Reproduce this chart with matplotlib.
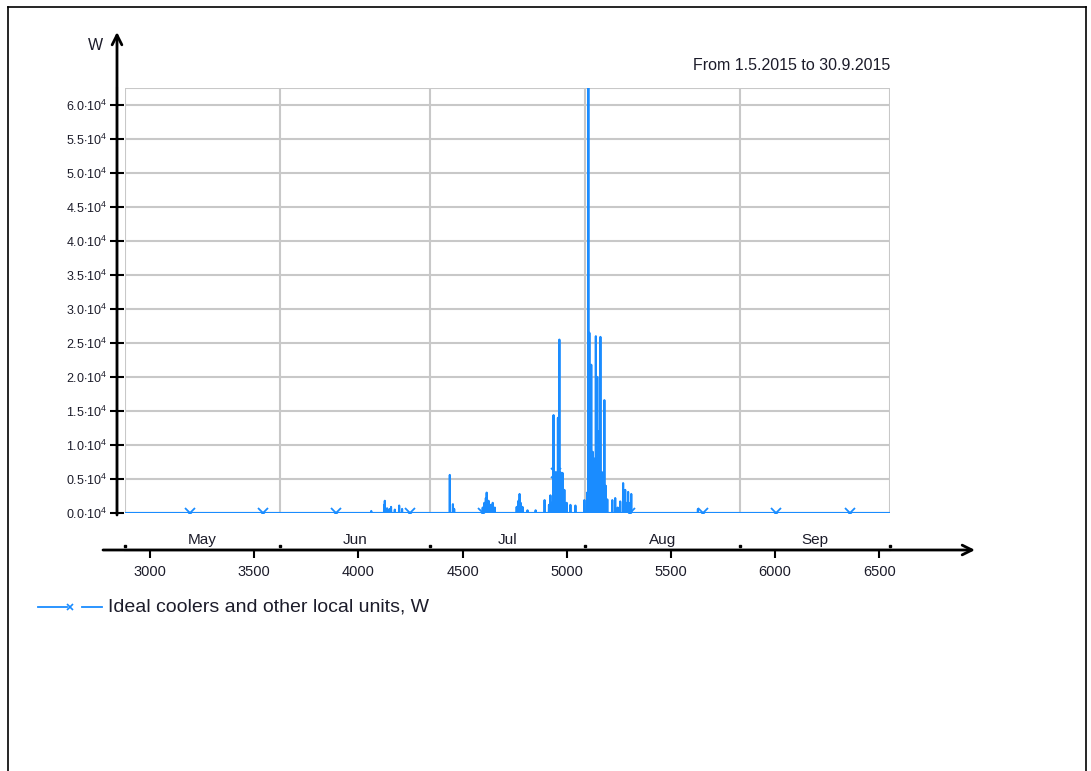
import numpy as np
import matplotlib
matplotlib.use('Agg')
import matplotlib.pyplot as plt
from matplotlib.patches import Rectangle
from matplotlib.lines import Line2D

plt.rcParams['font.family'] = ['Liberation Sans', 'DejaVu Sans']
plt.rcParams['mathtext.fontset'] = 'custom'
plt.rcParams['mathtext.rm'] = 'Liberation Sans'
plt.rcParams['mathtext.it'] = 'Liberation Sans'

# hours of year, 1 May .. 30 Sep 2015
start_hour = 2880
end_hour = 6552
month_bounds = [2880, 3624, 4344, 5088, 5832, 6552]
month_names = ['May', 'Jun', 'Jul', 'Aug', 'Sep']
x_ticks = [3000, 3500, 4000, 4500, 5000, 5500, 6000, 6500]
y_ticks = [0, 5000, 10000, 15000, 20000, 25000, 30000, 35000,
           40000, 45000, 50000, 55000, 60000]

# nonzero hourly cooling loads (W)
spike_hours = [4062, 4124, 4127, 4138, 4150, 4157, 4175, 4196, 4210,
               4439, 4454, 4460,
               4597, 4605, 4612, 4616, 4625, 4635, 4645, 4655,
               4760, 4769, 4774, 4779, 4788, 4812,
               4851, 4894, 4915, 4922, 4930, 4937, 4942, 4951, 4958, 4965,
               4970, 4980, 4989, 5000, 5018, 5042,
               5085, 5098, 5104, 5109, 5114, 5118, 5125, 5133, 5140, 5147,
               5155, 5162, 5170, 5181, 5188, 5195,
               5219, 5233, 5245, 5257, 5271, 5276, 5281, 5290, 5295, 5305, 5310,
               5630]
spike_values = [300, 1200, 1800, 700, 600, 900, 500, 1100, 600,
                5600, 1300, 600,
                800, 1500, 2200, 3000, 1800, 1200, 1500, 800,
                900, 1800, 2800, 1500, 900, 400,
                400, 1900, 1200, 2600, 1500, 14400, 6000, 5900, 14000, 25500,
                6000, 5900, 3400, 1500, 1200, 1100,
                1900, 3000, 62500, 26500, 14000, 21800, 9000, 8000, 26000, 20000,
                12000, 25900, 6000, 16600, 4000, 2000,
                1900, 2200, 800, 1700, 4400, 2500, 3400, 1500, 3100, 1500, 2800,
                600]

hours = np.arange(start_hour, end_hour + 1)
load = np.zeros(len(hours))
load[np.array(spike_hours) - start_hour] = spike_values

blue = '#1a8cff'
grey = '#c8c8c8'
txt = '#1c1c2a'

W, H = 1091, 771
fig = plt.figure(figsize=(W / 100, H / 100), dpi=100)
ax = fig.add_axes([125 / W, 1 - 513 / H, 765 / W, 425 / H])

ax.plot(hours, load, color=blue, lw=1.5, marker='x', ms=7, mew=1.3,
        markevery=(311, 352), clip_on=True, zorder=3)

ax.set_xlim(start_hour, end_hour)
ax.set_ylim(0, 62500)

# grid / frame
ax.grid(axis='y', color=grey, lw=1.5, zorder=0)
for b in month_bounds[1:-1]:
    ax.axvline(b, color=grey, lw=1.5, zorder=0)
ax.add_patch(Rectangle((0, 0), 1, 1, transform=ax.transAxes, fill=False,
                       ec=grey, lw=1.5, zorder=0))
for s in ['top', 'right']:
    ax.spines[s].set_visible(False)

# y axis
ax.spines['left'].set_position(('outward', 5.8))
ax.spines['left'].set_linewidth(1.5)
ax.set_yticks(y_ticks)
ax.set_yticklabels([r'$%.1f{\cdot}10^{4}$' % (v / 1e4) for v in y_ticks])
ax.tick_params(axis='y', direction='inout', length=10, width=1.5, colors='k',
               labelcolor=txt, labelsize=9, pad=2)

# x axis
ax.spines['bottom'].set_position(('outward', 26.6))
ax.spines['bottom'].set_linewidth(1.5)
ax.set_xticks(x_ticks)
ax.set_xticklabels([str(v) for v in x_ticks])
ax.tick_params(axis='x', direction='out', length=6, width=1.5, colors='k',
               labelcolor=txt, labelsize=10.5, pad=5)

# arrows
ax.annotate('', xy=(-8 / 765, (513 - 32) / 425), xytext=(-8 / 765, -2 / 425),
            xycoords='axes fraction',
            arrowprops=dict(arrowstyle='->,head_length=0.7,head_width=0.35',
                            lw=2, color='k', shrinkA=0, shrinkB=0))
ax.annotate('', xy=((975 - 125) / 765, -37 / 425), xytext=(-22 / 765, -37 / 425),
            xycoords='axes fraction',
            arrowprops=dict(arrowstyle='->,head_length=0.7,head_width=0.35',
                            lw=2, color='k', shrinkA=0, shrinkB=0))

# month separators and names
xt = ax.get_xaxis_transform()
ax.plot(month_bounds, [-33 / 425] * len(month_bounds), ls='none', marker='s',
        ms=1.8, color='k', transform=xt, clip_on=False)
for i, m in enumerate(month_names):
    mid = (month_bounds[i] + month_bounds[i + 1]) / 2
    ax.text(mid, -27 / 425, m, transform=xt, ha='center', va='center',
            fontsize=11, color=txt)

ax.text(-22 / 765, (513 - 45) / 425, 'W', transform=ax.transAxes,
        ha='right', va='center', fontsize=11.5, color=txt)
ax.text(1.0, (513 - 65) / 425, 'From 1.5.2015 to 30.9.2015',
        transform=ax.transAxes, ha='right', va='center', fontsize=11.5,
        color=txt)

# legend drawn by hand
ly = 1 - 607 / H
fig.add_artist(Line2D([38 / W, 67 / W], [ly, ly], color=blue, lw=1.3))
fig.add_artist(Line2D([82 / W, 102 / W], [ly, ly], color=blue, lw=1.3))
fig.add_artist(Line2D([70 / W], [ly], color=blue, marker='x', ms=5,
                      mew=1.2, ls='none'))
fig.text(108 / W, ly, 'Ideal coolers and other local units, W',
         ha='left', va='center', fontsize=14, color=txt)

# outer border
for xs, ys in [([8, 8], [7, 771]), ([8, 1086], [7, 7]), ([1086, 1086], [7, 771])]:
    fig.add_artist(Line2D([x / W for x in xs], [1 - y / H for y in ys],
                          color='k', lw=1.2))

fig.savefig('out.png', dpi=100)
